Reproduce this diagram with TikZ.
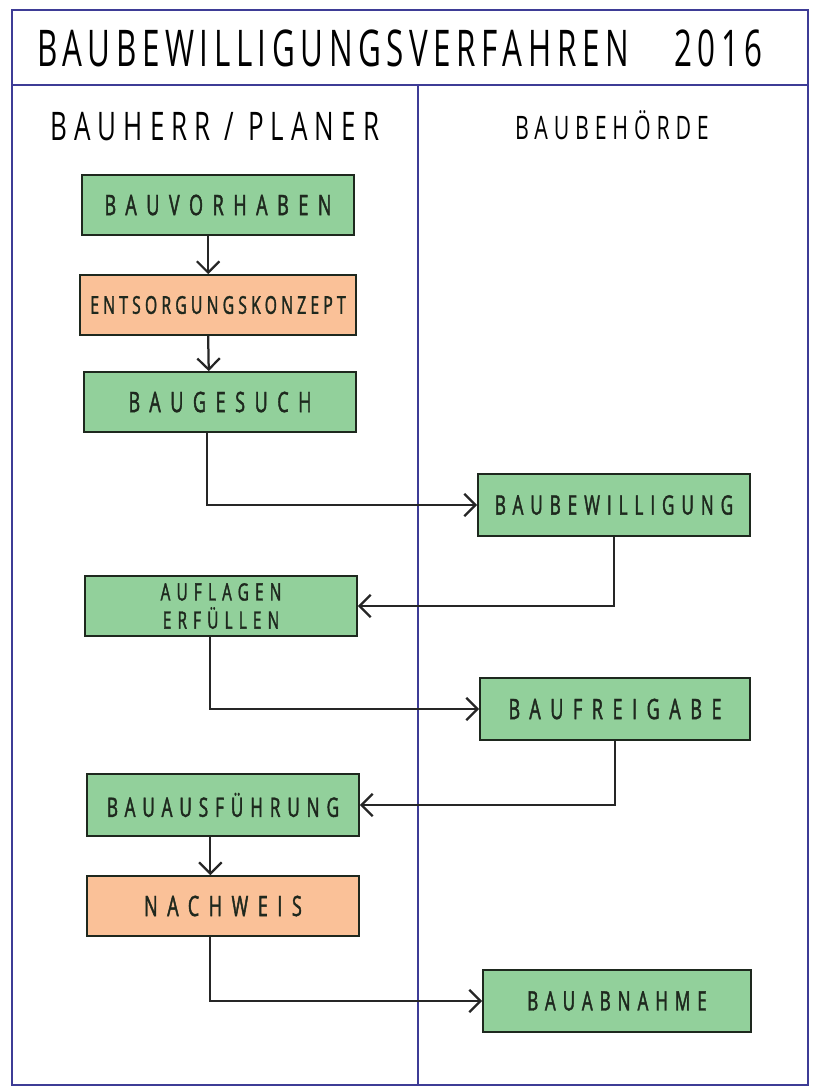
\documentclass[tikz,border=0pt]{standalone}
\usepackage{fontspec}
\usepackage{xcolor}
\usetikzlibrary{arrows.meta}

\newfontfamily\titlefont[FakeStretch=0.62,LetterSpace=11]{Open Sans}
\newfontfamily\lanefont[FakeStretch=0.66,LetterSpace=18]{Open Sans}
\newfontfamily\boxfont[FakeStretch=0.64,LetterSpace=26,FakeBold=1.5]{Open Sans}

\definecolor{boxgreen}{RGB}{146,208,155}
\definecolor{boxorange}{RGB}{250,193,152}
\definecolor{frameblue}{RGB}{62,60,150}
\definecolor{inkdark}{RGB}{30,40,30}

\begin{document}
\begin{tikzpicture}[x=0.025cm, y=-0.025cm,
    stage/.style={rectangle, draw=inkdark, line width=1.2pt, fill=boxgreen,
      minimum width=6.8cm, minimum height=1.5cm, text=inkdark, align=center,
      font=\boxfont\fontsize{19}{22}\selectfont},
    widestage/.style={stage,
      font=\boxfont\fontsize{20}{22}\selectfont\addfontfeatures{LetterSpace=34}},
    extra/.style={stage, fill=boxorange},
    flow/.style={draw=black!85, line width=1.6pt,
      -{Straight Barb[length=8pt,width=16pt,line width=1.6pt]}},
    lane/.style={draw=frameblue, line width=1.3pt}]
    \useasboundingbox (0,0) rectangle (819,1088);
    % Frame
    \draw [lane] (12,10) rectangle (808,1085);
    \draw [lane] (12,85) -- (808,85);
    \draw [lane] (418,85) -- (418,1085);

    % Headings
    \node (title) at (400,48) {\titlefont\fontsize{36}{40}\selectfont
      BAUBEWILLIGUNGSVERFAHREN\hspace{0.9em}2016};
    \node (planer) at (215,127) {\lanefont\fontsize{28}{30}\selectfont
      BAUHERR / PLANER};
    \node (behoerde) at (612,125) {\lanefont\fontsize{23}{26}\selectfont
      BAUBEHÖRDE};

    % Nodes
    \node (vorhaben) [widestage] at (218,205) {BAUVORHABEN};
    \node (entsorgung) [extra, font=\boxfont\fontsize{17.5}{20}\selectfont\addfontfeatures{LetterSpace=17},
      minimum width=6.9cm] at (218,305) {ENTSORGUNGSKONZEPT};
    \node (gesuch) [widestage] at (220,402) {BAUGESUCH};
    \node (bewilligung) [stage, minimum height=1.55cm] at (614,505)
    {BAUBEWILLIGUNG};
    \node (auflagen) [stage, font=\boxfont\fontsize{17}{20}\selectfont]
    at (221,606) {AUFLAGEN\\ERFÜLLEN};
    \node (freigabe) [widestage, minimum width=6.75cm, minimum height=1.55cm]
    at (615,709) {BAUFREIGABE};
    \node (ausfuehrung) [stage, minimum height=1.55cm] at (223,805)
    {BAUAUSFÜHRUNG};
    \node (nachweis) [extra, widestage, fill=boxorange] at (223,906) {NACHWEIS};
    \node (abnahme) [stage, minimum width=6.7cm, minimum height=1.55cm]
    at (617,1001) {BAUABNAHME};

    % Links
    \draw [flow] ([xshift=-7pt]vorhaben.south) -- ([xshift=-7pt]entsorgung.north);
    \draw [flow] ([xshift=-7pt]entsorgung.south) -- ([xshift=-8pt]gesuch.north);
    \draw [flow] ([xshift=-9pt]gesuch.south) |- (bewilligung);
    \draw [flow] (bewilligung) |- (auflagen);
    \draw [flow] ([xshift=-8pt]auflagen.south) |- (freigabe);
    \draw [flow] (freigabe) |- (ausfuehrung);
    \draw [flow] ([xshift=-9pt]ausfuehrung.south) -- ([xshift=-9pt]nachweis.north);
    \draw [flow] ([xshift=-9pt]nachweis.south) |- (abnahme);
\end{tikzpicture}
\end{document}
